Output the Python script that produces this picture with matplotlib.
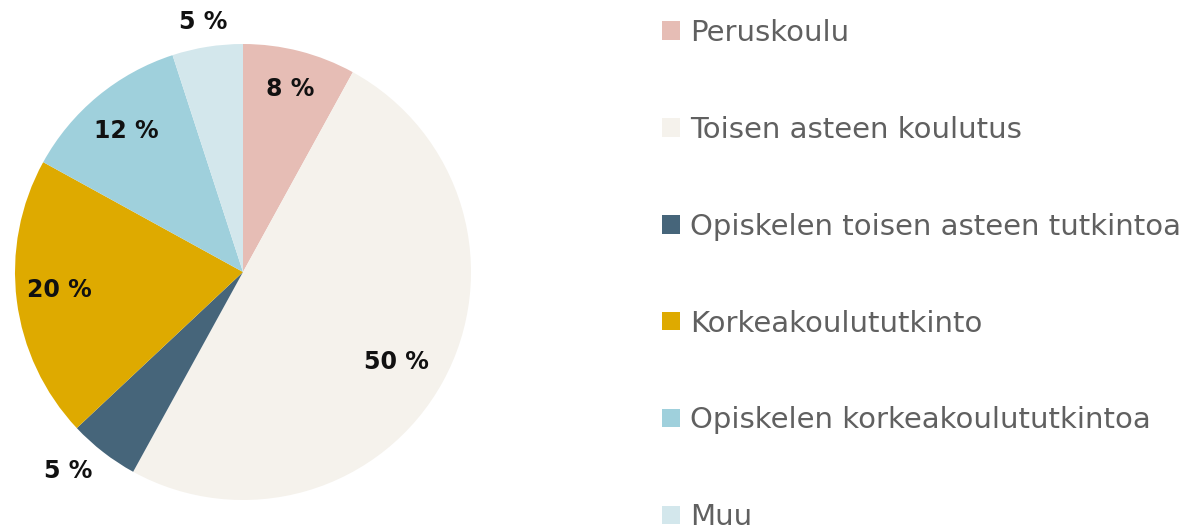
import matplotlib
matplotlib.use("Agg")
import matplotlib.pyplot as plt
import numpy as np

# Koulutustausta
labels = ["Peruskoulu", "Toisen asteen koulutus", "Opiskelen toisen asteen tutkintoa",
          "Korkeakoulututkinto", "Opiskelen korkeakoulututkintoa", "Muu"]
values = [8, 50, 5, 20, 12, 5]
colors = ["#E6BDB5", "#F5F2EC", "#46657A", "#DEAA00", "#9FD0DC", "#D3E7EC"]
label_dist = [0.83, 0.78, 1.16, 0.81, 0.80, 1.11]
label_nudge = [0, -1.5, -3.5, -1.5, 0, 0]  # degrees

W, H = 1188, 529
fig = plt.figure(figsize=(W / 100, H / 100), dpi=100)

cx, cy, r = 243, 272, 228
ax = fig.add_axes([(cx - r) / W, (H - cy - r) / H, 2 * r / W, 2 * r / H])
wedges, _ = ax.pie(values, colors=colors, startangle=90, counterclock=False,
                   radius=1.0, wedgeprops=dict(linewidth=0))
ax.set_xlim(-1, 1)
ax.set_ylim(-1, 1)
ax.set_aspect("equal")
ax.axis("off")

cum = 0
for v, d, nd in zip(values, label_dist, label_nudge):
    mid = np.deg2rad(90 - (cum + v / 2) * 3.6 + nd)
    ax.text(d * np.cos(mid), d * np.sin(mid), f"{v} %", ha="center", va="center",
            fontsize=17, fontweight="semibold", color="#111111", clip_on=False)
    cum += v

leg = fig.legend(wedges, labels, loc="upper left", bbox_to_anchor=(662 / W, 1 - 19 / H),
                 frameon=False, fontsize=21, labelcolor="#606060",
                 handlelength=0.6, handleheight=0.6, handletextpad=0.35,
                 labelspacing=2.36, borderpad=0, borderaxespad=0)

fig.savefig("out.png", dpi=100)
